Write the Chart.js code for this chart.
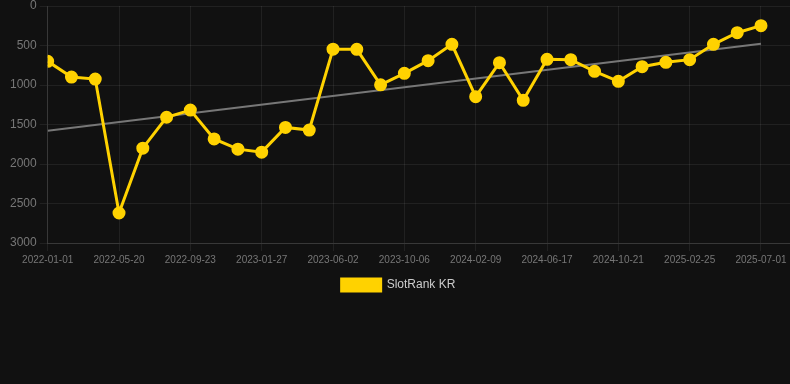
<!DOCTYPE html>
<html>
<head>
<meta charset="utf-8">
<script src="https://cdn.jsdelivr.net/npm/chart.js@4.4.1/dist/chart.umd.min.js"></script>
<style>
    html, body { margin: 0; padding: 0; background: #111111; }
    #wrap { position: relative; width: 790px; height: 301px; }
</style>
</head>
<body>
<div id="wrap"><canvas id="myChart"></canvas></div>
<script>
//#region DATA
const dates = [
    "2022-01-01", "2022-02-16", "2022-04-04", "2022-05-20", "2022-07-01", "2022-08-12",
    "2022-09-23", "2022-11-04", "2022-12-16", "2023-01-27", "2023-03-10", "2023-04-21",
    "2023-06-02", "2023-07-14", "2023-08-25", "2023-10-06", "2023-11-17", "2023-12-29",
    "2024-02-09", "2024-03-22", "2024-05-03", "2024-06-17", "2024-07-29", "2024-09-09",
    "2024-10-21", "2024-12-02", "2025-01-13", "2025-02-25", "2025-04-08", "2025-05-20",
    "2025-07-01"
];
const rankKR = [
    700, 900, 925, 2620, 1800, 1408, 1318, 1683, 1812, 1850, 1537,
    1570, 546, 548, 998, 852, 692, 485, 1148, 717, 1194, 675,
    679, 827, 953, 768, 713, 679, 485, 338, 249
];
const trendStart = 1580;
const trendEnd = 477;
const yTicks = [0, 500, 1000, 1500, 2000, 2500, 3000];
//#endregion DATA

//#region CHART
const last = dates.length - 1;
const mainPoints = rankKR.map((v, i) => ({ x: i, y: v }));
const trendPoints = [{ x: 0, y: trendStart }, { x: last, y: trendEnd }];

const ctx = document.querySelector("#myChart").getContext("2d");
new Chart(ctx, {
    type: "line",
    data: {
        datasets: [
            {
                label: "SlotRank KR",
                data: mainPoints,
                borderColor: "#FFD200",
                backgroundColor: "#FFD200",
                borderWidth: 3,
                pointRadius: 5,
                pointHoverRadius: 6,
                pointBackgroundColor: "#FFD200",
                pointBorderColor: "#FFD200",
                tension: 0,
                fill: false
            },
            {
                label: "trend",
                data: trendPoints,
                borderColor: "#777777",
                borderWidth: 2,
                pointRadius: 0,
                fill: false
            }
        ]
    },
    options: {
        responsive: true,
        maintainAspectRatio: false,
        animation: false,
        layout: { autoPadding: false, padding: { left: 7 } },
        plugins: {
            legend: {
                position: "bottom",
                labels: {
                    color: "#cccccc",
                    font: { size: 12 },
                    boxWidth: 39,
                    filter: item => item.text !== "trend"
                }
            },
            tooltip: { enabled: false }
        },
        scales: {
            x: {
                type: "linear",
                min: 0,
                max: 31.22,
                afterFit: scale => { scale.paddingRight = 0; },
                grid: { color: "rgba(255,255,255,0.07)" },
                border: { color: "rgba(255,255,255,0.1)" },
                ticks: {
                    stepSize: 3,
                    includeBounds: false,
                    maxRotation: 0,
                    color: "#777777",
                    font: { size: 10 },
                    callback: v => dates[v] ?? ""
                }
            },
            y: {
                reverse: true,
                min: yTicks[0],
                max: yTicks[yTicks.length - 1],
                afterFit: scale => { scale.paddingTop = 6; },
                grid: { color: "rgba(255,255,255,0.07)" },
                border: { color: "rgba(255,255,255,0.1)" },
                ticks: {
                    stepSize: 500,
                    color: "#777777",
                    font: { size: 12 },
                    callback: v => String(v)
                }
            }
        }
    }
});
//#endregion CHART
</script>
</body>
</html>
